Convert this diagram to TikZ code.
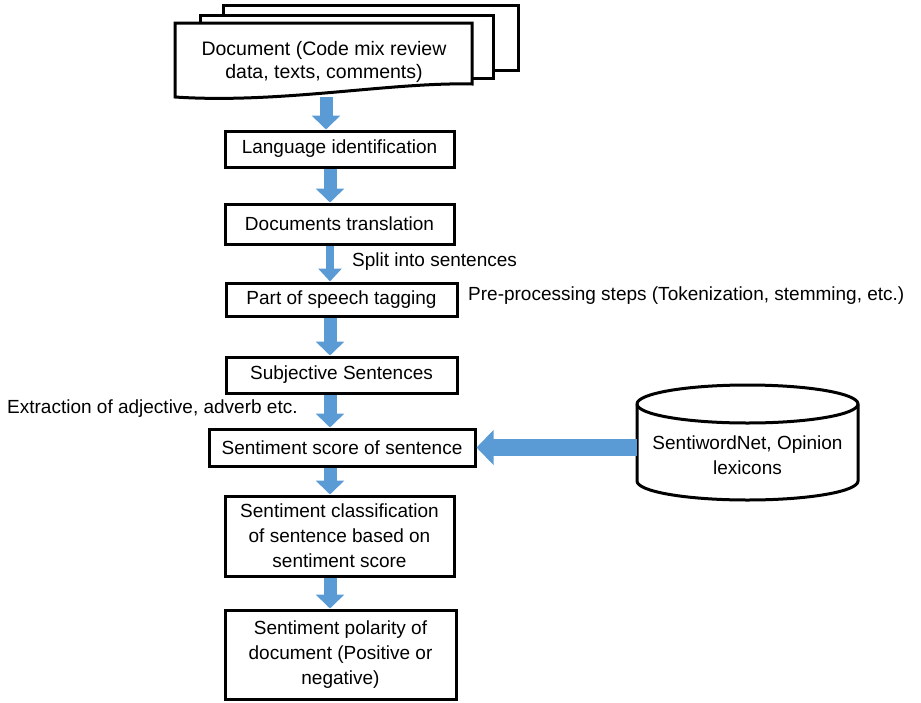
\documentclass[tikz,border=0pt]{standalone}
\usepackage{fontspec}
\setmainfont{Liberation Sans}
\usetikzlibrary{arrows.meta}
\definecolor{flowblue}{HTML}{5B9BD5}
\begin{document}
\begin{tikzpicture}[x=1pt,y=-1pt,
  txt/.style={font=\fontsize{19}{25}\selectfont},
  box/.style={txt, draw, line width=3pt, fill=white, inner sep=0pt, align=center},
  lbl/.style={txt, inner sep=0pt},
  page/.style={draw, line width=3pt, fill=white, line join=miter},
  flow/.style={flowblue, line width=13pt, -{Triangle[length=14pt,width=28pt]}},
  thinflow/.style={flowblue, line width=8pt, -{Triangle[length=13pt,width=23pt]}},
  bigflow/.style={flowblue, line width=17pt, -{Triangle[length=17pt,width=34pt]}}]
\useasboundingbox (0,0) rectangle (921,702);

% stacked pages of the input documents
\draw[page] (223,5) rectangle (518,70);
\draw[page] (200,15) rectangle (493,78);
\draw[page] (175,23) -- (472,23) -- (472,84)
  .. controls (390,82) and (280,104) .. (175,97) -- cycle;
\node[lbl, align=center, font=\fontsize{19.5}{23}\selectfont] (doc) at (324,62)
  {Document (Code mix review\\data, texts, comments)};
\coordinate (docbase) at (326,97);

% vertical axis of the flow arrows
\coordinate (ax) at (330,0);

% processing steps
\node[box, minimum width=229, minimum height=36] (lang)  at (339.5,149) {Language identification};
\node[box, minimum width=229, minimum height=40] (trans) at (339.5,224) {Documents translation};
\node[box, minimum width=231, minimum height=33] (pos)   at (341.5,299.5) {Part of speech tagging};
\node[box, minimum width=231, minimum height=36] (subj)  at (341.5,375) {Subjective Sentences};
\node[box, minimum width=266, minimum height=37] (score) at (342,447.5) {Sentiment score of sentence};
\node[box, minimum width=229, minimum height=80] (class) at (339.5,536) {Sentiment classification\\of sentence based on\\sentiment score};
\node[box, minimum width=231, minimum height=89] (pol)   at (340.5,654.5) {Sentiment polarity of\\document (Positive or\\negative)};

% side notes
\node[lbl, anchor=west] (split) at (352,262) {Split into sentences};
\node[lbl, anchor=west] (prep)  at (468,296) {Pre-processing steps (Tokenization, stemming, etc.)};
\node[lbl, anchor=west] (extr)  at (7,409) {Extraction of adjective, adverb etc.};

% lexicon database (cylinder)
\draw[line width=3pt, fill=white]
  (637,404) -- (637,481) arc[start angle=180, end angle=0, x radius=110.5, y radius=19]
  -- (858,404) arc[start angle=0, end angle=-180, x radius=110.5, y radius=19] -- cycle;
\draw[line width=3pt] (637,404) arc[start angle=180, end angle=0, x radius=110.5, y radius=19];
\node[lbl, align=center, minimum width=221] (db) at (747.5,455) {SentiwordNet, Opinion\\lexicons};

% flow arrows
\draw[flow] (docbase) -- (docbase |- lang.north);
\draw[flow] (ax |- lang.south) -- (ax |- trans.north);
\draw[thinflow] (ax |- trans.south) -- (ax |- pos.north);
\draw[flow] (ax |- pos.south) -- (ax |- subj.north);
\draw[flow] (ax |- subj.south) -- (ax |- score.north);
\draw[flow] (ax |- score.south) -- (ax |- class.north);
\draw[flow] (ax |- class.south) -- (ax |- pol.north);
\draw[bigflow] (db.west |- score.east) -- (score.east);
\end{tikzpicture}
\end{document}
